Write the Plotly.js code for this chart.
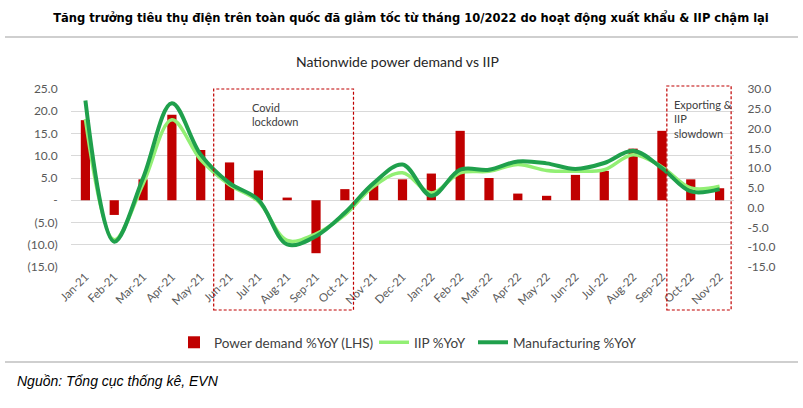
<!DOCTYPE html>
<html>
<head>
<meta charset="utf-8">
<script src="https://cdn.plot.ly/plotly-3.0.1.min.js"></script>
<style>html,body{margin:0;padding:0;background:#fff;}#chart{width:803px;height:408px;}</style>
</head>
<body>
<div id="chart"></div>
<script>
var months = ["Jan-21","Feb-21","Mar-21","Apr-21","May-21","Jun-21","Jul-21","Aug-21","Sep-21","Oct-21","Nov-21","Dec-21",
              "Jan-22","Feb-22","Mar-22","Apr-22","May-22","Jun-22","Jul-22","Aug-22","Sep-22","Oct-22","Nov-22"];
var powerDemand = [18.0,-3.3,4.7,19.2,11.3,8.5,6.7,0.6,-11.9,2.5,3.4,4.7,6.0,15.6,5.0,1.5,1.0,5.7,6.6,11.6,15.6,4.7,2.7];
var iip = [22.4,-8.1,6.0,22.2,12.1,5.8,1.6,-8.3,-6.6,-1.8,5.4,8.8,3.7,8.8,9.2,10.9,9.4,9.2,9.6,13.4,10.3,5.0,5.4];
var manufacturing = [27.1,-8.6,7.5,26.4,13.4,6.2,2.0,-9.3,-7.2,-1.3,6.2,10.9,3.0,9.6,9.6,11.7,11.2,9.8,11.3,14.4,10.0,4.1,4.7];
var leftTickVals = [25,20,15,10,5,0,-5,-10,-15];
var leftTickText = ["25.0","20.0","15.0","10.0","5.0","-","(5.0)","(10.0)","(15.0)"];
var rightTickVals = [30,25,20,15,10,5,0,-5,-10,-15];
var rightTickText = ["30.0","25.0","20.0","15.0","10.0","5.0","0.0","-5.0","-10.0","-15.0"];

var W = 803, H = 408, L = 71, R = 734, T = 89, B = 267;
function px(x){return (x-L)/(R-L);}
function py(y){return (B-y)/(B-T);}

var font = "Lato, 'Open Sans', sans-serif";
var traces = [
  {type:'bar', x:months, y:powerDemand, name:'Power demand %YoY (LHS)', marker:{color:'#c00000'}, width:0.32, yaxis:'y', legend:'legend'},
  {type:'scatter', mode:'lines', x:months, y:iip, name:'IIP %YoY', line:{color:'#92ef74', width:3.5, shape:'spline', smoothing:1}, yaxis:'y2', legend:'legend2'},
  {type:'scatter', mode:'lines', x:months, y:manufacturing, name:'Manufacturing %YoY', line:{color:'#1fa04c', width:4, shape:'spline', smoothing:1}, yaxis:'y2', legend:'legend3'}
];
var boxStyle = {color:'#c00000', width:1.2, dash:'3px,2px'};
function legendAt(x){
  return {orientation:'h', xref:'container', yref:'container', x:x/W, y:1-327/H, xanchor:'left', yanchor:'top',
          font:{size:13.5, color:'#404040'}, bgcolor:'rgba(0,0,0,0)'};
}
var layout = {
  width:W, height:H,
  margin:{l:L, r:W-R, t:T, b:H-B, pad:0},
  paper_bgcolor:'#fff', plot_bgcolor:'#fff',
  font:{family:font, color:'#404040', size:12},
  showlegend:true,
  title:{text:'Tăng trưởng tiêu thụ điện trên toàn quốc đã giảm tốc từ tháng 10/2022 do hoạt động xuất khẩu & IIP chậm lại',
         font:{family:"'DejaVu Sans Condensed', 'Liberation Sans', sans-serif", size:12.8, color:'#000', weight:'bold'},
         x:411/W, xref:'container', xanchor:'center', y:1-18/H, yref:'container', yanchor:'middle'},
  xaxis:{type:'category', range:[-0.5,22.5], tickangle:-45, tickfont:{size:11.5, color:'#595959'},
         showgrid:false, zeroline:false, showline:false, ticks:'', fixedrange:true},
  yaxis:{range:[-15,25], tickvals:leftTickVals, ticktext:leftTickText, showgrid:true, gridcolor:'#d9d9d9', gridwidth:1,
         zeroline:false, showline:false, ticks:'outside', ticklen:10, tickcolor:'rgba(0,0,0,0)', tickfont:{size:12, color:'#595959'}},
  yaxis2:{range:[-15,30], tickvals:rightTickVals, ticktext:rightTickText, overlaying:'y', side:'right', showgrid:false,
          zeroline:false, showline:false, ticks:'outside', ticklen:10, tickcolor:'rgba(0,0,0,0)', tickfont:{size:12, color:'#595959'}},
  legend:legendAt(174),
  legend2:legendAt(374),
  legend3:legendAt(473),
  shapes:[
    {type:'line', xref:'paper', yref:'paper', x0:px(5), x1:px(798), y0:py(37), y1:py(37), line:{color:'#bfbfbf', width:1.5}},
    {type:'line', xref:'paper', yref:'paper', x0:px(5), x1:px(798), y0:py(362), y1:py(362), line:{color:'#bfbfbf', width:1.5}},
    {type:'rect', xref:'x', yref:'paper', x0:4.45, x1:9.3, y0:py(310), y1:py(89), line:boxStyle, fillcolor:'rgba(0,0,0,0)'},
    {type:'rect', xref:'x', yref:'paper', x0:20.17, x1:22.4, y0:py(310), y1:py(86), line:boxStyle, fillcolor:'rgba(0,0,0,0)'}
  ],
  annotations:[
    {text:'Nationwide power demand vs IIP', xref:'paper', yref:'paper', x:px(397), y:py(62), xanchor:'center', yanchor:'middle',
     showarrow:false, font:{size:14, color:'#262626'}},
    {text:'Covid<br>lockdown', xref:'x', yref:'paper', x:5.72, y:py(99), xanchor:'left', yanchor:'top', align:'left',
     showarrow:false, font:{size:11, color:'#404040'}},
    {text:'Exporting &<br>IIP<br>slowdown', xref:'x', yref:'paper', x:20.36, y:py(96), xanchor:'left', yanchor:'top', align:'left',
     showarrow:false, font:{size:11, color:'#404040'}},
    {text:'<i>Nguồn: Tổng cục thống kê, EVN</i>', xref:'paper', yref:'paper', x:px(15), y:py(381), xanchor:'left', yanchor:'middle',
     showarrow:false, font:{family:"'Liberation Sans', Arial, sans-serif", size:14, color:'#000'}}
  ]
};
Plotly.newPlot('chart', traces, layout, {displayModeBar:false, staticPlot:true});
</script>
</body>
</html>
